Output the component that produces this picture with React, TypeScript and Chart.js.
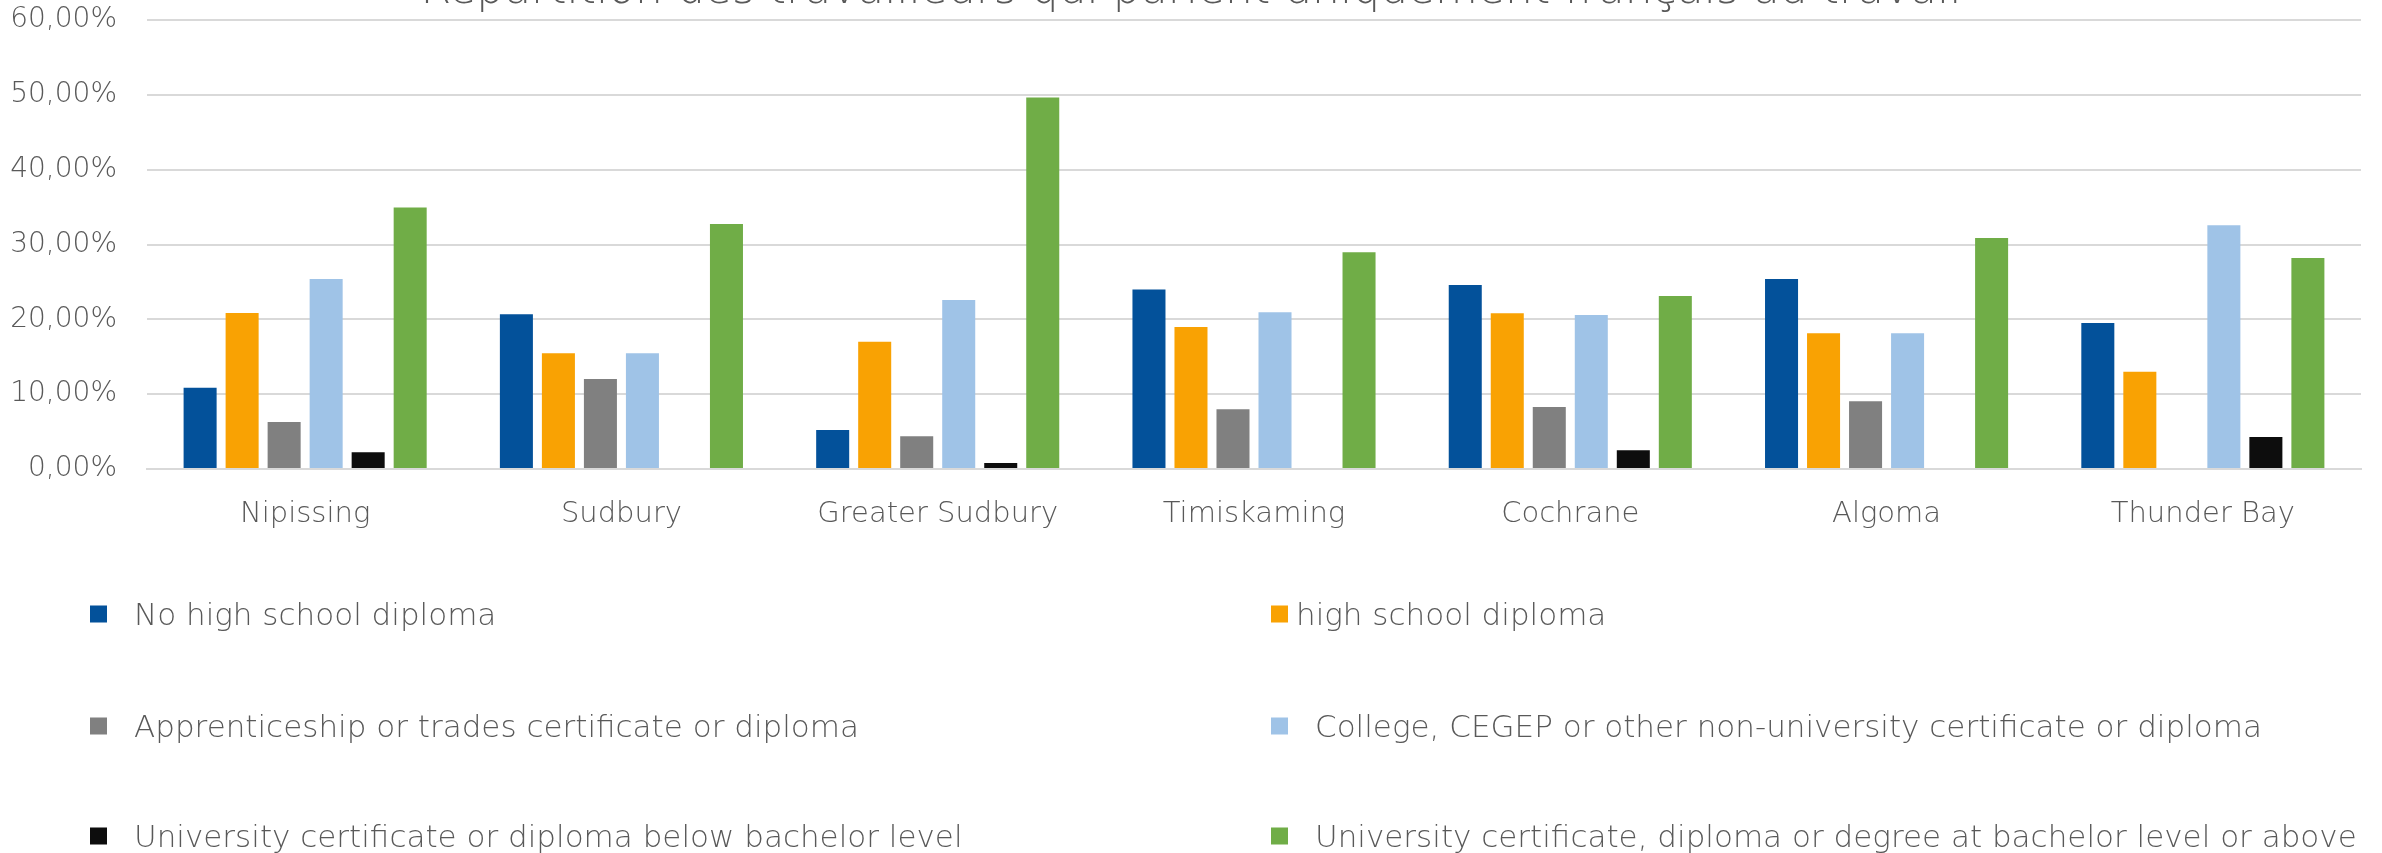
import React, { useEffect, useRef } from 'react';
import { Chart, registerables } from 'chart.js';

Chart.register(...registerables);

const TITLE = 'Répartition des travailleurs qui parlent uniquement français au travail';

const categories = ['Nipissing', 'Sudbury', 'Greater Sudbury', 'Timiskaming', 'Cochrane', 'Algoma', 'Thunder Bay'];

const seriesNames = [
  'No high school diploma',
  'high school diploma',
  'Apprenticeship or trades certificate or diploma',
  'College, CEGEP or other non-university certificate or diploma',
  'University certificate or diploma below bachelor level',
  'University certificate, diploma or degree at bachelor level or above',
];

const noHighSchool = [10.87, 20.68, 5.21, 23.98, 24.6, 25.4, 19.52];
const highSchool = [20.86, 15.46, 17.02, 18.98, 20.81, 18.14, 13.01];
const apprenticeship = [6.28, 12.03, 4.37, 7.98, 8.29, 9.05, 0];
const college = [25.4, 15.46, 22.59, 20.94, 20.59, 18.14, 32.58];
const belowBachelor = [2.23, 0, 0.8, 0, 2.5, 0, 4.28];
const bachelorOrAbove = [34.94, 32.75, 49.64, 28.97, 23.13, 30.88, 28.21];

const yMin = 0;
const yMax = 60;
const yStep = 10;

const seriesValues = [noHighSchool, highSchool, apprenticeship, college, belowBachelor, bachelorOrAbove];
const seriesColors = ['#03519A', '#F9A203', '#808080', '#9FC3E7', '#0D0D0D', '#70AD47'];

const TEXT_COLOR = '#595959';
const GRID_COLOR = '#D9D9D9';
const FONT_FAMILY = '"DejaVu Sans", "Liberation Sans", sans-serif';

// Legend layout (style constants)
const LEGEND_COL_X = [90, 1271];
const LEGEND_ROW_Y = [614, 726, 836];
const LEGEND_BOX = 17;
const LEGEND_TEXT_GAP = [27, 8, 27, 27, 27, 27];
const LEGEND_FONT_SIZE = 31;
const TITLE_FONT_SIZE = 44;

const overlayPlugin = {
  id: 'overlayPlugin',
  afterDraw(chart: any) {
    const ctx: CanvasRenderingContext2D = chart.ctx;
    ctx.save();
    // Title (partially clipped at the top like the reference)
    ctx.fillStyle = TEXT_COLOR;
    ctx.font = `300 ${TITLE_FONT_SIZE}px ${FONT_FAMILY}`;
    ctx.textAlign = 'center';
    ctx.textBaseline = 'alphabetic';
    ctx.fillText(TITLE, chart.width / 2, 3);

    // Legend in two columns
    ctx.font = `300 ${LEGEND_FONT_SIZE}px ${FONT_FAMILY}`;
    ctx.textAlign = 'left';
    chart.data.datasets.forEach((ds: any, i: number) => {
      const col = i % 2;
      const row = Math.floor(i / 2);
      const x = LEGEND_COL_X[col];
      const cy = LEGEND_ROW_Y[row];
      ctx.fillStyle = ds.backgroundColor;
      ctx.fillRect(x, cy - LEGEND_BOX / 2, LEGEND_BOX, LEGEND_BOX);
      ctx.fillStyle = TEXT_COLOR;
      ctx.fillText(ds.label, x + LEGEND_BOX + LEGEND_TEXT_GAP[i], cy + (LEGEND_FONT_SIZE * 0.73) / 2);
    });
    ctx.restore();
  },
};

export default function App() {
  const canvasRef = useRef<HTMLCanvasElement | null>(null);

  useEffect(() => {
    document.body.style.margin = '0';
    const canvas = canvasRef.current;
    if (!canvas) return;
    const chart = new Chart(canvas, {
      type: 'bar',
      data: {
        labels: categories,
        datasets: seriesNames.map((name, i) => ({
          label: name,
          data: seriesValues[i],
          backgroundColor: seriesColors[i],
          borderWidth: 0,
          categoryPercentage: 0.797,
          barPercentage: 0.786,
        })),
      },
      options: {
        responsive: false,
        animation: false,
        devicePixelRatio: 1,
        layout: { padding: { top: 20, right: 21, bottom: 0, left: 0 } },
        plugins: {
          legend: { display: false },
          title: { display: false },
          tooltip: { enabled: false },
        },
        scales: {
          x: {
            grid: { display: false, drawTicks: false },
            border: { display: true, color: GRID_COLOR, width: 2 },
            ticks: {
              color: TEXT_COLOR,
              font: { family: FONT_FAMILY, size: 29, weight: '300' as any },
              padding: 28,
              maxRotation: 0,
              autoSkip: false,
            },
            afterFit(scale: any) {
              scale.height = 384;
            },
          },
          y: {
            min: yMin,
            max: yMax,
            grid: { color: GRID_COLOR, lineWidth: 2, drawTicks: false },
            border: { display: false },
            ticks: {
              stepSize: yStep,
              color: TEXT_COLOR,
              font: { family: FONT_FAMILY, size: 28, weight: '300' as any },
              padding: 30,
              callback: (v: any) => Number(v).toFixed(2).replace('.', ',') + '%',
            },
            afterFit(scale: any) {
              scale.width = 147;
              scale.paddingTop = 0;
              scale.paddingBottom = 0;
            },
          },
        },
      },
      plugins: [overlayPlugin],
    });
    return () => chart.destroy();
  }, []);

  return (
    <canvas
      ref={canvasRef}
      width={2382}
      height={853}
      style={{ display: 'block', width: '2382px', height: '853px' }}
    />
  );
}
